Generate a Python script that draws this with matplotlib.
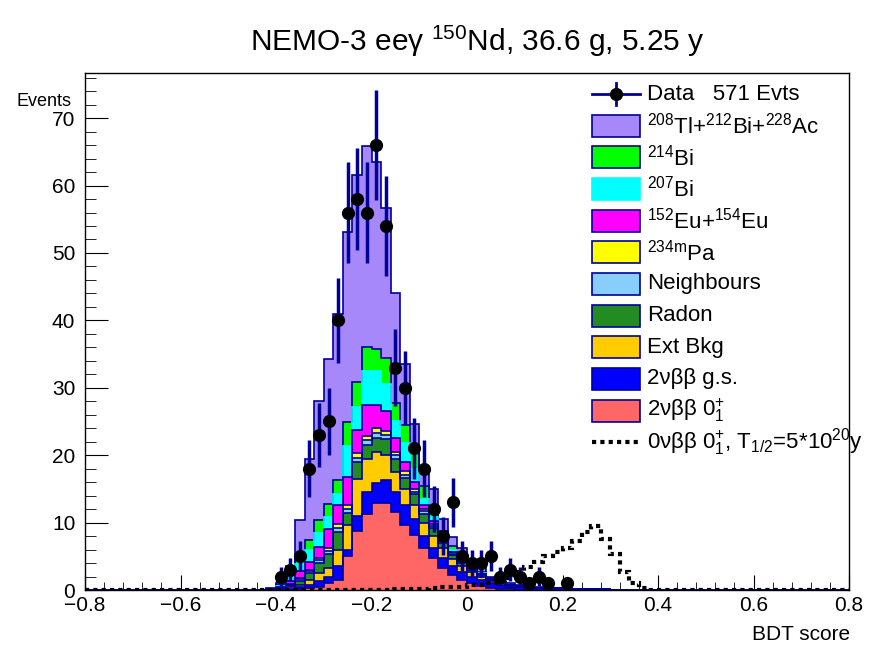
import numpy as np
import matplotlib
matplotlib.use("Agg")
import matplotlib.pyplot as plt
from matplotlib.lines import Line2D
from matplotlib.patches import Rectangle
from matplotlib.ticker import MultipleLocator

plt.rcParams['font.family'] = ['Liberation Sans', 'DejaVu Sans']
plt.rcParams['mathtext.fontset'] = 'custom'
plt.rcParams['mathtext.rm'] = 'Liberation Sans'
plt.rcParams['mathtext.it'] = 'Liberation Sans:italic'
plt.rcParams['mathtext.bf'] = 'Liberation Sans:bold'

# binning: 80 bins of 0.02 from -0.8 to 0.8
edges = np.linspace(-0.8, 0.8, 81)
mc_first = 19   # first filled MC bin (centre -0.41)
data_first = 20  # first data bin (centre -0.39)

# data, bins -0.39 ... 0.21
data = [2, 3, 5, 18, 23, 25, 40, 56, 58, 56, 66, 54, 33, 30, 21, 18, 12, 8, 13, 5,
        4, 4, 5, 2, 3, 2, 1, 2, 1, 0, 1]

# MC components, bins -0.41 ... 0.29 (bottom of stack first)
bb0 = [0, .02, .05, .1, .3, .5, 1.0, 1.5, 5.0, 8.8, 11.3, 12.9, 12.9, 11.5, 9.7, 8.2, 6.2, 4.7, 3.2, 2.2,
       1.5, 1.0, .6, .3, .15, .08, .04, .02, 0, 0, 0, 0, 0, 0, 0, 0]
bbgs = [.02, .06, .15, .3, .5, .8, 1.0, 2.1, 1.0, 2.2, 3.3, 2.9, 3.4, 3.1, 2.9, 2.3, 1.8, 1.6, 1.6, 1.3,
        1.2, 1.0, .9, .7, .55, .42, .35, .3, .28, .25, .22, .2, .18, .15, .12, .08]
extbkg = [.03, .07, .2, .4, .7, 1.2, 1.3, 2.4, 3.6, 5.5, 4.9, 4.7, 3.7, 2.9, 2.4, 2.1, 2.0, 1.7, 1.4, 1.1,
          .9, .7, .5, .4, .3, .15, .1, .08, .05, .04, .03, 0, 0, 0, 0, 0]
radon = [.02, .1, .3, .6, 1.0, 1.5, 2.0, 2.6, 1.8, 2.5, 2.0, 2.1, 2.4, 2.0, 1.6, 1.6, 1.3, 1.2, .8, .6,
         .4, .3, .2, .1, .05, .03, .02, 0, 0, 0, 0, 0, 0, 0, 0, 0]
neigh = [.01, .03, .1, .2, .3, .4, .5, .6, .6, .6, .7, .7, .6, .5, .5, .4, .4, .3, .3, .2,
         .2, .1, .1, .05, .03, .02, .01, 0, 0, 0, 0, 0, 0, 0, 0, 0]
pa234 = [.01, .02, .1, .2, .2, .3, .4, .6, .6, .7, .7, .7, .6, .5, .5, .4, .3, .3, .2, .2,
         .1, .1, .05, .05, .02, .01, 0, 0, 0, 0, 0, 0, 0, 0, 0, 0]
eu = [.03, .15, .5, 1.0, 1.2, 1.7, 2.8, 2.8, 4.1, 3.5, 4.5, 3.4, 2.9, 2.0, 1.4, 1.0, .6, .4, .2, .1,
      .1, .05, .05, .02, .02, .01, 0, 0, 0, 0, 0, 0, 0, 0, 0, 0]
bi207 = [.03, .15, .5, 1.0, 1.7, 2.0, 1.8, 1.6, 4.7, 3.4, 5.1, 5.1, 4.1, 2.5, 2.8, 2.0, .9, .6, .3, .2,
         .1, .05, .05, .03, .02, .01, 0, 0, 0, 0, 0, 0, 0, 0, 0, 0]
bi214 = [.05, .2, .4, 1.0, 1.5, 2.0, 2.0, 2.1, 3.5, 3.7, 3.6, 3.2, 3.8, 2.7, 2.7, 2.5, 2.0, 1.2, .8, .6,
         .5, .3, .25, .15, .1, .07, .05, .03, .02, .01, 0, 0, 0, 0, 0, 0]
tl208 = [.1, .3, 1.2, 5.6, 12.1, 17.7, 21.4, 24.7, 28.2, 30.6, 29.8, 27.8, 22.2, 16.3, 9.0, 4.2, 2.6, 3.0, 1.8, 1.4,
         1.2, .8, .5, .2, .26, .2, .2, .15, .1, .08, .06, .05, 0, 0, 0, 0]

# 0vbb 0+_1 signal, bins -0.15 ... 0.39
sig_first = 32
signal = [.1, .15, .2, .2, .3, .4, .5, .5, .7, .8, 1.0, 1.3, 1.8, 2.6, 3.4, 4.2, 5.0, 5.6, 6.3, 7.3,
          8.6, 9.5, 7.5, 5.3, 2.7, 1.0, .3]

components = [
    (bb0, '#ff6666', r'2νββ $0^{+}_{1}$'),
    (bbgs, '#0000ff', '2νββ g.s.'),
    (extbkg, '#ffcc00', 'Ext Bkg'),
    (radon, '#228b22', 'Radon'),
    (neigh, '#87cefa', 'Neighbours'),
    (pa234, '#ffff00', r'$^{234\mathrm{m}}$Pa'),
    (eu, '#ff00ff', r'$^{152}$Eu+$^{154}$Eu'),
    (bi207, '#00ffff', r'$^{207}$Bi'),
    (bi214, '#00ff00', r'$^{214}$Bi'),
    (tl208, '#a788fa', r'$^{208}$Tl+$^{212}$Bi+$^{228}$Ac'),
]
navy = '#000099'

nb = len(edges) - 1
centres = 0.5 * (edges[:-1] + edges[1:])

W, H = 882, 645
fig = plt.figure(figsize=(W / 100, H / 100), dpi=100)
ax = fig.add_axes([85 / W, 1 - 590 / H, 764 / W, 517 / H])

# stack, cumulative
cum = np.zeros(nb)
tops = []
for vals, col, lab in components:
    h = np.zeros(nb)
    h[mc_first:mc_first + len(vals)] = vals
    cum = cum + h
    tops.append(cum.copy())

# draw from the top of the stack down
for (vals, col, lab), top in reversed(list(zip(components, tops))):
    ec = col if col == '#00ffff' else navy
    ax.stairs(top, edges, fill=True, facecolor=col, edgecolor='none', zorder=2)
    ax.stairs(top, edges, color=ec, lw=1.2, zorder=2.1)

# signal, dotted
hs = np.zeros(nb)
hs[sig_first:sig_first + len(signal)] = signal
ax.stairs(hs, edges, color='black', lw=3, linestyle=(0, (1, 1)), zorder=3)

# data
hd = np.zeros(nb)
hd[data_first:data_first + len(data)] = data
m = hd > 0
ax.errorbar(centres[m], hd[m], yerr=np.sqrt(hd[m]), fmt='o', color=navy, ecolor=navy,
            elinewidth=2.5, capsize=0, markersize=8.5, markerfacecolor='black',
            markeredgecolor='black', zorder=4)

ax.set_xlim(-0.8, 0.8)
ax.set_ylim(0, 76.7)
ax.xaxis.set_major_locator(MultipleLocator(0.2))
ax.xaxis.set_minor_locator(MultipleLocator(0.04))
ax.yaxis.set_major_locator(MultipleLocator(10))
ax.yaxis.set_minor_locator(MultipleLocator(2))
ax.tick_params(which='both', direction='in', top=False, right=False, labelsize=15)
ax.tick_params(axis='y', which='major', length=16.5, pad=7)
ax.tick_params(axis='y', which='minor', length=8)
ax.tick_params(axis='x', which='major', length=11, pad=4)
ax.tick_params(axis='x', which='minor', length=5.6)
ax.xaxis.set_major_formatter(plt.FuncFormatter(
    lambda v, p: '0' if abs(v) < 1e-9 else f'{v:.1f}'.replace('-', '\u2212')))
for s in ax.spines.values():
    s.set_linewidth(1.0)

fig.text(850 / W, 1 - 634 / H, 'BDT score', ha='right', va='center', fontsize=15)
fig.text(16 / W, 1 - 101 / H, 'Events', ha='left', va='center', fontsize=13)
fig.text(477 / W, 1 - 41 / H, r'NEMO-3 eeγ $^{150}$Nd, 36.6 g, 5.25 y',
         ha='center', va='center', fontsize=21.5)

# legend, drawn entry by entry in figure pixels
legend_rows = ['Data   571 Evts'] + [lab for _, _, lab in reversed(components)] + \
              [r'0νββ $0^{+}_{1}$, T$_{1/2}$=5*10$^{20}$y']
row0, pitch = 94, 31.65
bx0, bx1, bh = 592, 640, 22
for i, lab in enumerate(legend_rows):
    yc = row0 + i * pitch
    fy = 1 - yc / H
    if i == 0:
        fig.add_artist(Line2D([bx0 / W, bx1 / W], [fy, fy], color=navy, lw=2))
        fig.add_artist(Line2D([(bx0 + bx1) / 2 / W] * 2, [1 - (yc - 11) / H, 1 - (yc + 11) / H],
                              color=navy, lw=2))
        fig.add_artist(Line2D([(bx0 + bx1) / 2 / W], [fy], marker='o', markersize=8.5,
                              color='black', lw=0))
    elif i <= len(components):
        col = components[len(components) - i][1]
        ec = col if col == '#00ffff' else navy
        fig.add_artist(Rectangle((bx0 / W, 1 - (yc + bh / 2) / H), (bx1 - bx0) / W, bh / H,
                                 facecolor=col, edgecolor=ec, lw=1.2))
    else:
        fig.add_artist(Line2D([bx0 / W, bx1 / W], [fy, fy], color='black', lw=3,
                              linestyle=(0, (1, 1))))
    fig.text(647 / W, fy, lab, ha='left', va='center', fontsize=16)

fig.savefig('out.png', dpi=100)
